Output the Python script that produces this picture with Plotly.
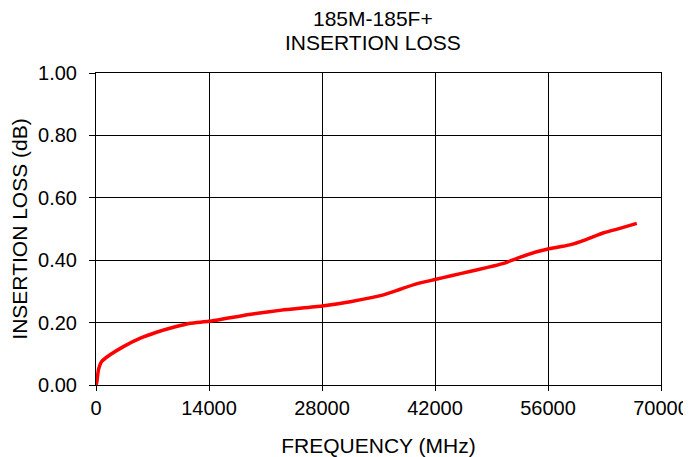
import plotly.graph_objects as go

freq_mhz = [0, 80, 300, 700, 1700, 3400, 5500, 7500, 9600, 11700, 14000, 19000,
            23000, 28000, 31500, 35500, 37700, 39700, 42000, 44000, 46300, 48500,
            50500, 52500, 54600, 56000, 58700, 60800, 62900, 64900, 67000]
insertion_loss_db = [0, 0.006, 0.048, 0.075, 0.096, 0.123, 0.150, 0.169, 0.185, 0.198,
                     0.204, 0.226, 0.240, 0.253, 0.267, 0.288, 0.307, 0.324, 0.338,
                     0.350, 0.364, 0.377, 0.390, 0.409, 0.427, 0.436, 0.449, 0.467,
                     0.488, 0.502, 0.518]
x_ticks = [0, 14000, 28000, 42000, 56000, 70000]
y_ticks = [0.0, 0.2, 0.4, 0.6, 0.8, 1.0]
title_lines = ["185M-185F+", "INSERTION LOSS"]

font_family = "Liberation Sans, Arial, sans-serif"

fig = go.Figure()
fig.add_trace(go.Scatter(
    x=freq_mhz, y=insertion_loss_db, mode="lines",
    line=dict(color="#ff0000", width=3.5, shape="spline", smoothing=0.5),
    hoverinfo="skip", showlegend=False,
))

fig.update_layout(
    width=683, height=449,
    margin=dict(l=88, r=30, t=65, b=72),
    paper_bgcolor="white", plot_bgcolor="white",
    font=dict(family=font_family, size=20, color="black"),
)
# title lines (centred over the plot area)
fig.add_annotation(text=title_lines[0], xref="paper", yref="paper", x=0.491, y=1.175,
                   xanchor="center", yanchor="middle", showarrow=False,
                   font=dict(size=21, family=font_family))
fig.add_annotation(text=title_lines[1], xref="paper", yref="paper", x=0.491, y=1.097,
                   xanchor="center", yanchor="middle", showarrow=False,
                   font=dict(size=21, family=font_family))

fig.update_xaxes(
    range=[0, 70000], tickvals=x_ticks, ticktext=[str(v) for v in x_ticks],
    showgrid=True, gridcolor="black", gridwidth=1,
    showline=True, linecolor="black", linewidth=1, mirror=True,
    ticks="outside", ticklen=5, tickcolor="black",
    zeroline=False, automargin=False,
    tickfont=dict(size=20),
    title=dict(text="FREQUENCY (MHz)", font=dict(size=21), standoff=20),
)
fig.update_yaxes(
    range=[0, 1.0], tickvals=y_ticks, ticktext=[f"{v:.2f}" for v in y_ticks],
    showgrid=True, gridcolor="black", gridwidth=1,
    showline=True, linecolor="black", linewidth=1, mirror=True,
    ticks="outside", ticklen=6, tickcolor="black",
    zeroline=False, automargin=False,
    tickfont=dict(size=20), ticklabelstandoff=8,
    title=dict(text="INSERTION LOSS (dB)", font=dict(size=21), standoff=15),
)

fig.write_html("out.html")
